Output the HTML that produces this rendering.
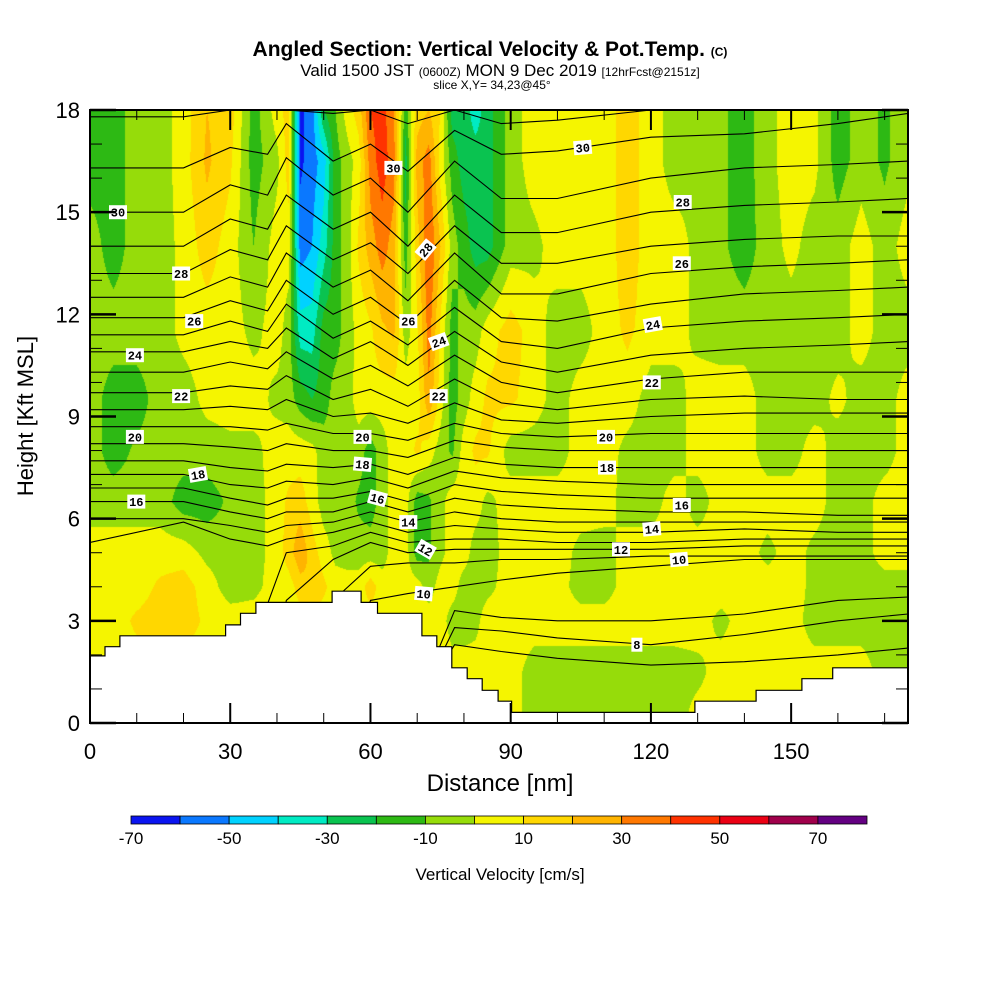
<!DOCTYPE html>
<html><head><meta charset="utf-8">
<style>
html,body{margin:0;padding:0;background:#fff;}
#wrap{position:relative;width:1000px;height:1000px;overflow:hidden;font-family:"Liberation Sans",sans-serif;}
#field{position:absolute;left:90px;top:110px;}
#ov{position:absolute;left:0;top:0;}
</style></head>
<body>
<div id="wrap">
<canvas id="field" width="818" height="613"></canvas>
<svg id="ov" width="1000" height="1000" xmlns="http://www.w3.org/2000/svg">
  <g font-family="Liberation Sans, sans-serif" text-anchor="middle">
    <text x="490" y="56" font-size="21" font-weight="bold">Angled Section: Vertical Velocity &amp; Pot.Temp. <tspan font-size="12">(C)</tspan></text>
    <text x="500" y="76" font-size="17">Valid 1500 JST <tspan font-size="12">(0600Z)</tspan> MON 9 Dec 2019 <tspan font-size="12">[12hrFcst@2151z]</tspan></text>
    <text x="492" y="89" font-size="12">slice X,Y= 34,23@45°</text>
  </g>
  <g id="lines"></g>
  <g id="terrain"></g>
  <g id="labels"></g>
  <g id="axes"></g>
  <text x="500" y="791" font-size="24" text-anchor="middle">Distance [nm]</text>
  <text transform="translate(33,416) rotate(-90)" font-size="22" text-anchor="middle">Height [Kft MSL]</text>
  <g id="cbar"></g>
  <text x="500" y="880" font-size="17" text-anchor="middle">Vertical Velocity [cm/s]</text>
</svg>
</div>
<script>
// ---- data ----
const colors=['#0a14f0','#0a78ff','#00d2ff','#00ebc3','#0ac350','#2db914','#96dc0a','#f5f500','#ffd700','#ffb400','#ff7800','#ff3200','#eb0014','#a0004b','#640082'];
const cbarTicks=[-70,-50,-30,-10,10,30,50,70];
const xs=[0,5,10,15,20,25,30,35,40,42.5,45,47.5,50,52.5,55,57.5,60,62.5,65,67.5,70,72.5,75,77.5,80,82.5,85,90,95,100,105,110,115,120,125,130,135,140,145,150,155,160,165,170,175];
const hs=[0,1.5,3,4,5,6.5,8,9.5,11.5,14,16.5,18];
const w0=[5,5,5,5,5,5,5,5,5,5,5,5,5,5,5,5,5,5,5,5,5,5,5,5,5,5,5,5,-5,-5,-5,-5,-5,-5,-5,5,5,5,5,5,5,5,5,5,5];
const w1=[5,5,5,5,5,5,5,5,5,5,5,5,5,5,5,5,5,5,5,5,5,5,5,5,5,5,5,5,-5,-5,-5,-5,-5,-5,-5,-3,5,5,5,5,5,5,5,-5,-5];
const w2=[5,5,12,15,15,8,5,5,5,5,5,5,5,5,5,5,5,5,5,5,5,5,5,-5,-5,-3,5,5,5,5,5,5,5,5,5,5,-3,5,5,5,-5,-5,-5,-5,-5];
const w3=[5,5,5,12,15,5,-5,-3,5,5,15,20,12,5,5,5,15,5,5,5,5,-5,5,5,-5,-5,-3,5,5,5,-5,-5,5,5,5,5,5,5,5,5,-3,-5,-5,-5,-5];
const w4=[5,5,5,5,5,-3,-5,-5,5,15,28,15,5,-3,-5,-5,-5,-5,5,5,-15,-12,-3,5,5,-5,-5,5,5,5,-3,-5,5,5,5,5,5,5,-3,5,-3,-5,-5,5,5];
const w5=[-5,-5,-5,-5,-15,-15,-8,-5,5,12,15,5,-5,-5,-5,-12,-15,-5,5,5,-15,-12,-3,5,5,5,-3,5,5,5,5,5,-5,-5,5,-5,5,5,5,5,5,-5,-5,5,5];
const w6=[-5,-15,-8,-5,-5,-5,-3,-3,5,5,5,3,-5,-5,-5,-5,-15,-5,5,5,12,5,-5,-12,5,12,12,-5,-5,-5,5,5,-3,-5,-5,5,5,5,-5,-5,5,-5,-5,-5,5];
const w7=[-5,-15,-15,-5,-5,3,5,5,-3,-5,-15,-20,-15,-5,-5,5,5,5,5,5,5,28,5,-15,-5,5,12,12,5,-5,5,5,5,-5,-5,5,5,5,-5,-5,-5,3,-5,-5,5];
const w8=[-5,-5,-5,-5,3,5,5,-3,5,-5,-35,-35,-15,-15,-5,3,8,18,22,-5,8,35,8,-15,-5,-5,5,15,5,-5,-5,5,12,5,5,-3,-5,-5,-5,-5,-5,-5,5,-5,-5];
const w9=[-5,-15,-5,-5,3,15,5,-10,5,5,-55,-50,-35,-15,-5,12,25,35,25,-15,15,40,20,-5,-15,-25,-25,-5,-3,5,5,5,15,5,5,-3,-8,-15,-5,3,-5,-5,5,-5,5];
const w10=[-15,-15,-5,-5,5,22,12,-15,-3,15,-62,-55,-45,-15,-5,5,35,45,35,-25,25,35,5,-15,-25,-25,-25,-5,5,5,5,5,15,5,-5,-3,-8,-15,-3,5,3,-15,-5,-12,-3];
const w11=[-15,-15,-5,-5,5,20,15,-15,5,15,-62,-55,-20,-10,5,15,40,45,30,-15,15,20,10,-25,-25,-35,-25,-5,5,5,5,5,15,5,-5,-3,-8,-15,-3,5,3,-15,-5,-12,-3];
const wRows=[w0,w1,w2,w3,w4,w5,w6,w7,w8,w9,w10,w11];

const lineX=[0,20,30,38,42,52,60,68,78,88,100,120,140,160,175];
const th1=[17.8,17.8,18.0,18.0,18.0,17.9,18.0,17.6,18.0,17.6,17.7,18.0,18.0,18.0,18.0];
const th2=[16.3,16.3,16.9,16.7,17.6,16.5,17.0,16.2,17.4,16.7,16.8,17.2,17.3,17.6,17.9];
const th3=[15.0,15.0,15.8,15.5,16.6,15.5,16.0,15.0,16.5,15.4,15.4,16.0,16.3,16.4,16.5];
const th4=[14.0,14.0,14.8,14.5,15.5,14.5,15.0,14.0,15.5,14.4,14.4,15.0,15.2,15.3,15.4];
const th5=[13.2,13.2,13.9,13.6,14.6,13.6,14.1,13.2,14.6,13.5,13.5,14.0,14.2,14.3,14.3];
const th6=[12.5,12.5,13.1,12.8,13.8,12.8,13.3,12.4,13.8,12.6,12.6,13.2,13.4,13.5,13.6];
const th7=[11.9,11.9,12.4,12.1,13.0,12.0,12.5,11.7,13.0,11.9,11.8,12.3,12.6,12.7,12.8];
const th8=[11.4,11.4,11.8,11.5,12.3,11.3,11.8,11.1,12.2,11.2,11.0,11.6,11.8,11.9,12.0];
const th9=[10.9,10.9,11.2,11.0,11.6,10.7,11.2,10.5,11.5,10.6,10.3,10.8,11.0,11.1,11.2];
const th10=[10.3,10.3,10.6,10.4,10.9,10.1,10.5,9.9,10.8,10.0,9.7,10.1,10.3,10.3,10.3];
const th11=[9.7,9.7,9.9,9.8,10.2,9.5,9.8,9.3,10.1,9.4,9.2,9.5,9.6,9.5,9.5];
const th12=[9.2,9.2,9.3,9.2,9.5,9.0,9.1,8.8,9.4,8.9,8.8,9.0,9.1,9.1,9.1];
const th13=[8.7,8.7,8.7,8.6,8.8,8.5,8.5,8.3,8.8,8.5,8.4,8.5,8.5,8.5,8.5];
const th14=[8.2,8.2,8.1,8.0,8.2,8.0,8.0,7.8,8.3,8.1,8.0,8.0,8.0,8.0,8.0];
const th15=[7.7,7.7,7.5,7.4,7.6,7.5,7.6,7.3,7.8,7.6,7.5,7.5,7.5,7.5,7.5];
const th16=[7.3,7.3,7.0,6.9,7.1,7.0,7.2,6.9,7.4,7.2,7.1,7.0,7.0,7.0,7.0];
const th17=[6.9,6.9,6.6,6.4,6.6,6.6,6.8,6.5,7.0,6.8,6.7,6.6,6.6,6.6,6.6];
const th18=[6.5,6.5,6.2,6.0,6.2,6.2,6.5,6.2,6.6,6.4,6.3,6.2,6.2,6.1,6.1];
const th19=[6.0,6.0,5.8,5.6,5.8,5.9,6.2,5.9,6.2,6.0,5.9,5.9,5.9,5.9,5.9];
const th20=[5.3,5.9,5.4,5.2,5.4,5.6,5.9,5.6,5.8,5.7,5.6,5.6,5.7,5.6,5.6];
const th21=[0,0,0,3.5,5.0,5.2,5.6,5.3,5.4,5.4,5.3,5.3,5.4,5.4,5.4];
const th22=[0,0,0,0,3.6,4.8,5.3,5.0,5.1,5.1,5.1,5.1,5.2,5.2,5.2];
const th23=[0,0,0,0,0,3.6,4.6,4.7,4.7,4.8,4.8,4.9,4.9,4.9,4.9];
const th24=[0,0,0,0,0,0,3.6,3.8,4.0,4.2,4.4,4.6,4.8,4.8,4.8];
const th25=[0,0,0,0,0,0,0,0,3.3,3.1,3.0,3.0,3.2,3.6,3.7];
const th26=[0,0,0,0,0,0,0,0,2.8,2.7,2.5,2.3,2.6,3.0,3.2];
const th27=[0,0,0,0,0,0,0,0,2.3,2.1,1.9,1.7,1.8,2.0,2.2];
const thLines=[th1,th2,th3,th4,th5,th6,th7,th8,th9,th10,th11,th12,th13,th14,th15,th16,th17,th18,th19,th20,th21,th22,th23,th24,th25,th26,th27];

const labelText=['30','28','26','24','22','20','18','16','30','28','26','24','22','20','18','16','14','12','10','30','28','26','24','22','20','18','16','14','12','10','8'];
const labelNm=[6.0,19.5,22.3,9.6,19.5,9.6,23.1,9.9,64.9,71.8,68.1,74.6,74.6,58.3,58.3,61.5,68.1,71.8,71.4,105.4,126.8,126.6,120.4,120.2,110.4,110.6,126.6,120.2,113.6,126.0,117.0];
const labelH=[15.0,13.2,11.8,10.8,9.6,8.4,7.3,6.5,16.3,13.9,11.8,11.2,9.6,8.4,7.6,6.6,5.9,5.1,3.8,16.9,15.3,13.5,11.7,10.0,8.4,7.5,6.4,5.7,5.1,4.8,2.3];
const labelRot=[0,0,0,0,0,0,-10,0,0,-50,0,-20,0,0,5,15,0,30,5,-5,0,0,-10,0,0,0,0,-5,0,-5,0];

const terrNm=[0,3.2,3.2,6.4,6.4,29,29,32.2,32.2,35.5,35.5,51.8,51.8,58,58,61.5,61.5,71,71,74.2,74.2,77.4,77.4,80.7,80.7,83.9,83.9,87.3,87.3,90.2,90.2,129.4,129.4,142.5,142.5,152.3,152.3,158.9,158.9,175];
const terrH=[1.97,1.97,2.24,2.24,2.56,2.56,2.88,2.88,3.22,3.22,3.54,3.54,3.87,3.87,3.54,3.54,3.22,3.22,2.56,2.56,2.24,2.24,1.62,1.62,1.30,1.30,0.96,0.96,0.64,0.64,0.31,0.31,0.64,0.64,0.96,0.96,1.30,1.30,1.62,1.62];

const xTicks=[0,30,60,90,120,150];
const yTicks=[0,3,6,9,12,15,18];

// ---- axes helpers ----
const PL=90,PT=110,PW=818,PH=613,XMAX=175,YMAX=18;
const X=nm=>PL+nm*PW/XMAX;
const Y=h=>PT+PH-h*PH/YMAX;
const NS='http://www.w3.org/2000/svg';
function mk(tag,attrs,parent){const e=document.createElementNS(NS,tag);for(const k in attrs)e.setAttribute(k,attrs[k]);parent.appendChild(e);return e;}

// ---- field ----
function seg(arr,v){let i=0;while(i<arr.length-2&&v>arr[i+1])i++;const t=Math.max(0,Math.min(1,(v-arr[i])/(arr[i+1]-arr[i])));return [i,t];}
function val(nm,h){const [i,tx]=seg(xs,nm);const [j,ty]=seg(hs,h);
  const a=wRows[j][i],b=wRows[j][i+1],c=wRows[j+1][i],d=wRows[j+1][i+1];
  return (a*(1-tx)+b*tx)*(1-ty)+(c*(1-tx)+d*tx)*ty;}
const rgb=colors.map(c=>[parseInt(c.substr(1,2),16),parseInt(c.substr(3,2),16),parseInt(c.substr(5,2),16)]);
(function(){const cv=document.getElementById('field');const ctx=cv.getContext('2d');const img=ctx.createImageData(PW,PH);
  for(let py=0;py<PH;py++){const h=YMAX-(py+0.5)*YMAX/PH;
    for(let px=0;px<PW;px++){const nm=(px+0.5)*XMAX/PW;let k=Math.floor((val(nm,h)+70)/10);k=Math.max(0,Math.min(14,k));
      const o=(py*PW+px)*4;img.data[o]=rgb[k][0];img.data[o+1]=rgb[k][1];img.data[o+2]=rgb[k][2];img.data[o+3]=255;}}
  ctx.putImageData(img,0,0);})();

// ---- isentropes ----
const gL=document.getElementById('lines');
thLines.forEach((arr,li)=>{let d='';arr.forEach((h,i)=>{d+=(i?'L':'M')+X(lineX[i]).toFixed(1)+' '+Y(h).toFixed(1);});
  const p=mk('path',{d:d,fill:'none',stroke:'#000','stroke-width':1.1},gL);
  
  
});
const clip=mk('clipPath',{id:'pc'},document.getElementById('ov'));mk('rect',{x:PL,y:PT,width:PW,height:PH},clip);
gL.setAttribute('clip-path','url(#pc)');

// ---- terrain ----
(function(){const g=document.getElementById('terrain');let d='M'+X(0)+' '+Y(0);
  terrNm.forEach((n,i)=>{d+='L'+X(n).toFixed(1)+' '+Y(terrH[i]).toFixed(1);});d+='L'+X(XMAX)+' '+Y(0)+'Z';
  const p=mk('path',{d:d,fill:'#fff',stroke:'#000','stroke-width':1.2},g);
  
  
})();

// ---- labels ----
(function(){const g=document.getElementById('labels');
  labelText.forEach((t,i)=>{const cx=X(labelNm[i]),cy=Y(labelH[i]);
    const gg=mk('g',{transform:`translate(${cx.toFixed(1)},${cy.toFixed(1)}) rotate(${labelRot[i]})`},g);
    
    
    const wdt=t.length*7+4;
    mk('rect',{x:-wdt/2,y:-7,width:wdt,height:14,fill:'#fff'},gg);
    const tx=mk('text',{x:0,y:4.5,'font-size':12,'font-weight':'bold','text-anchor':'middle','font-family':'Liberation Mono, monospace'},gg);tx.textContent=t;});
})();

// ---- axes ----
(function(){const g=document.getElementById('axes');
  mk('rect',{x:PL,y:PT,width:PW,height:PH,fill:'none',stroke:'#000','stroke-width':2},g);
  for(let v=0;v<=XMAX;v+=10){const len=(v%30===0)?20:10;const x=X(v);
    mk('line',{x1:x,y1:PT+PH,x2:x,y2:PT+PH-len,stroke:'#000','stroke-width':len>10?2:1},g);
    mk('line',{x1:x,y1:PT,x2:x,y2:PT+len,stroke:'#000','stroke-width':len>10?2:1},g);}
  for(let v=0;v<=YMAX;v+=1){const len=(v%3===0)?26:12;const y=Y(v);
    mk('line',{x1:PL,y1:y,x2:PL+len,y2:y,stroke:'#000','stroke-width':len>12?2.5:1},g);
    mk('line',{x1:PL+PW,y1:y,x2:PL+PW-len,y2:y,stroke:'#000','stroke-width':len>12?2.5:1},g);}
  xTicks.forEach(v=>{const t=mk('text',{x:X(v),y:759,'font-size':22,'text-anchor':'middle'},g);
    
    
    t.textContent=v;});
  yTicks.forEach(v=>{const t=mk('text',{x:80,y:Y(v)+8,'font-size':22,'text-anchor':'end'},g);
    
    
    t.textContent=v;});
})();

// ---- colorbar ----
(function(){const g=document.getElementById('cbar');const x0=131,x1=867,bw=(x1-x0)/colors.length;
  colors.forEach((c,i)=>{const r=mk('rect',{x:x0+i*bw,y:816,width:bw,height:8,fill:c,stroke:'#000','stroke-width':0.8},g);
    
    });
  cbarTicks.forEach(v=>{const t=mk('text',{x:x0+(v+70)/10*bw,y:844,'font-size':17,'text-anchor':'middle'},g);
    
    
    t.textContent=v;});
})();
</script>
</body></html>
